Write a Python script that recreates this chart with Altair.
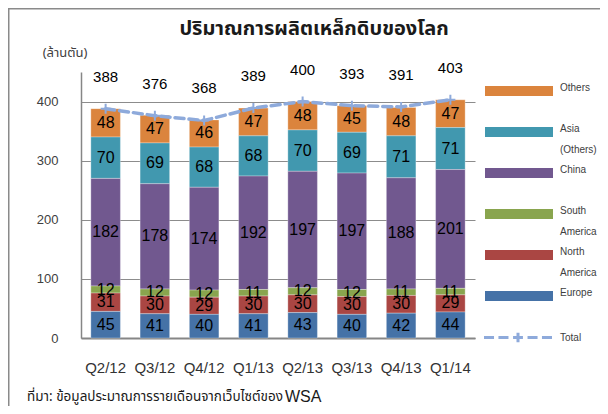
import altair as alt
import pandas as pd

quarters = ["Q2/12", "Q3/12", "Q4/12", "Q1/13", "Q2/13", "Q3/13", "Q4/13", "Q1/14"]
regions = ["Others", "Asia (Others)", "China", "South America", "North America", "Europe"]
region_colors = ["#DB843D", "#4198AF", "#71588F", "#89A54E", "#AA4643", "#4572A7"]
stack_rank = ["Europe", "North America", "South America", "China", "Asia (Others)", "Others"]

europe = [45, 41, 40, 41, 43, 40, 42, 44]
north_america = [31, 30, 29, 30, 30, 30, 30, 29]
south_america = [12, 12, 12, 11, 12, 12, 11, 11]
china = [182, 178, 174, 192, 197, 197, 188, 201]
asia_others = [70, 69, 68, 68, 70, 69, 71, 71]
others = [48, 47, 46, 47, 48, 45, 48, 47]
totals = [388, 376, 368, 389, 400, 393, 391, 403]

title_text = "ปริมาณการผลิตเหล็กดิบของโลก"
unit_text = "(ล้านตัน)"
source_text = "ที่มา: ข้อมูลประมาณการรายเดือนจากเว็บไซต์ของ"
source_org = "WSA"

series = {
    "Others": others,
    "Asia (Others)": asia_others,
    "China": china,
    "South America": south_america,
    "North America": north_america,
    "Europe": europe,
}
rows = []
for r in regions:
    for q, v in zip(quarters, series[r]):
        rows.append({"quarter": q, "region": r, "value": v, "rank": stack_rank.index(r)})
df = pd.DataFrame(rows)
tot = pd.DataFrame({"quarter": quarters, "total": totals, "series": ["Total"] * len(quarters)})

FONT = "Liberation Sans, Arial, sans-serif"
THAI = "Tahoma, 'Noto Sans Thai', 'Noto Sans', 'DejaVu Sans', sans-serif"
LINE_COLOR = "#8eaadb"

yscale = alt.Scale(domain=[0, 450], nice=False, zero=True)
xscale = alt.Scale(paddingInner=0.4, paddingOuter=0.2)
xaxis = alt.Axis(title=None, labelAngle=0, ticks=False, grid=False, domainColor="#868686",
                 domainWidth=2, labelPadding=22, labelFontSize=15, labelColor="#333333",
                 labelFont=FONT)
yaxis = alt.Axis(title=None, values=[0, 100, 200, 300, 400], ticks=False, grid=True,
                 gridColor="#8c8c8c", gridWidth=1.2, domainColor="#868686", domainWidth=1.5,
                 labelPadding=23, labelFontSize=13, labelColor="#404040", labelFont=FONT)

X = alt.X("quarter:N", sort=quarters, scale=xscale, axis=xaxis)

NB = "\u00a0"
fill_legend = alt.Legend(
    title=None, orient="none", legendX=421, legendY=2, direction="vertical", padding=0,
    symbolType="M-2,-0.3L2,-0.3L2,0.3L-2,0.3Z", symbolSize=1156, symbolStrokeWidth=0,
    symbolOpacity=1, labelFont=FONT, labelFontSize=10, labelColor="#404040",
    labelOffset=24, rowPadding=1, labelBaseline="alphabetic",
    labelExpr=(f"datum.label == 'Asia (Others)' ? ['Asia', '(Others)'] : "
               f"datum.label == 'South America' ? ['South', 'America'] : "
               f"datum.label == 'North America' ? ['North', 'America'] : "
               f"[datum.label, '{NB}']"),
)

bars = alt.Chart(df).mark_bar(stroke="#ffffff", strokeWidth=0.5, strokeOpacity=0.6).encode(
    x=X,
    y=alt.Y("value:Q", stack="zero", scale=yscale, axis=yaxis),
    color=alt.Color("region:N", scale=alt.Scale(domain=regions, range=region_colors),
                    legend=fill_legend),
    order=alt.Order("rank:Q", sort="ascending"),
)

seg_labels = alt.Chart(df).transform_stack(
    stack="value", groupby=["quarter"], as_=["y0", "y1"],
    sort=[alt.SortField("rank", order="ascending")],
).transform_calculate(mid="(datum.y0 + datum.y1) / 2").mark_text(
    font=FONT, fontSize=16, color="#000000", baseline="middle"
).encode(
    x=X,
    y=alt.Y("mid:Q", scale=yscale, axis=yaxis),
    text="value:Q",
)

stroke_legend = alt.Legend(
    title=None, orient="none", legendX=418.5, legendY=247, padding=0,
    symbolType=("M-2,0L-1.41,0M-1.15,0L-0.56,0M-0.29,0L0.29,0M0.56,0L1.15,0"
                "M1.41,0L2,0M0,-0.28L0,0.28"),
    symbolSize=1156, symbolStrokeWidth=3, symbolFillColor="transparent",
    labelFont=FONT, labelFontSize=10, labelColor="#404040", labelOffset=23.5,
)
S = alt.Stroke("series:N", scale=alt.Scale(domain=["Total"], range=[LINE_COLOR]),
               legend=stroke_legend)

line = alt.Chart(tot).mark_line(strokeWidth=3.5, strokeDash=[9, 5], strokeCap="round").encode(
    x=X, y=alt.Y("total:Q", scale=yscale, axis=yaxis), stroke=S,
)
pts = alt.Chart(tot).mark_point(shape="M-1,0L1,0M0,-1L0,1", size=100, filled=False,
                                strokeWidth=2, opacity=1).encode(
    x=X, y=alt.Y("total:Q", scale=yscale, axis=yaxis), stroke=S,
)
tot_labels = alt.Chart(tot).mark_text(font=FONT, fontSize=15, color="#000000",
                                      baseline="middle", dy=-32).encode(
    x=X, y=alt.Y("total:Q", scale=yscale, axis=yaxis), text="total:Q",
)

one = pd.DataFrame({"t": [title_text], "u": [unit_text], "s": [source_text], "o": [source_org]})
title = alt.Chart(one).mark_text(font=THAI, fontSize=20, fontWeight="bold", color="#1a1a1a",
                                 baseline="middle", align="center").encode(
    text="t:N", x=alt.value(233), y=alt.value(-43))
unit = alt.Chart(one).mark_text(font=THAI, fontSize=13, color="#404040",
                                baseline="middle", align="center").encode(
    text="u:N", x=alt.value(-16), y=alt.value(-19))
src = alt.Chart(one).mark_text(font=THAI, fontSize=13.5, color="#1a1a1a",
                               baseline="middle", align="right").encode(
    text="s:N", x=alt.value(202), y=alt.value(325))
org = alt.Chart(one).mark_text(font=FONT, fontSize=16, color="#1a1a1a",
                               baseline="middle", align="left").encode(
    text="o:N", x=alt.value(204), y=alt.value(325))
border_v = alt.Chart(one).mark_rule(color="#8a8a8a", strokeWidth=2).encode(
    x=alt.value(-72.5), y=alt.value(-64), y2=alt.value(340))
border_h = alt.Chart(one).mark_rule(color="#8a8a8a", strokeWidth=2).encode(
    x=alt.value(-73), x2=alt.value(530), y=alt.value(-63.5))

chart = alt.layer(
    bars, seg_labels, line, pts, tot_labels, title, unit, src, org, border_v, border_h
).properties(
    width=394, height=266,
    autosize=alt.AutoSizeParams(type="none"),
    padding={"left": 73, "top": 64, "right": 125, "bottom": 68},
).configure(
    style={"guide-label": {"lineHeight": 21}}
).configure_view(stroke=None)

chart.save("out.html", embed_options={"renderer": "svg", "actions": False})
